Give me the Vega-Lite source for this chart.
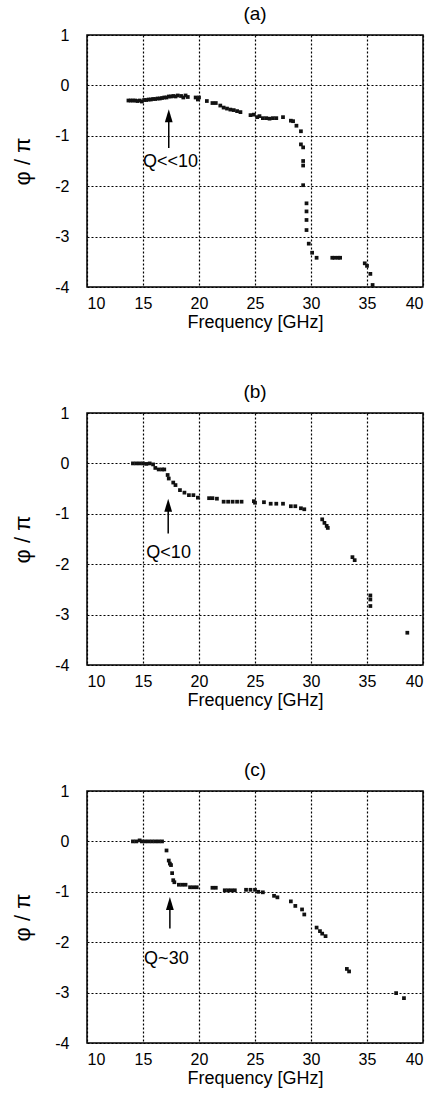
{
  "$schema": "https://vega.github.io/schema/vega-lite/v6.json",
  "background": "white",
  "padding": {"left": 11, "top": 4, "right": 16, "bottom": 5},
  "spacing": 126,
  "bounds": "flush",
  "config": {
    "font": "Liberation Sans",
    "view": {"stroke": "#000", "strokeWidth": 1.5},
    "axis": {"domain": false, "ticks": false, "labelFontSize": 16, "labelColor": "#000", "titleFontSize": 18, "titleColor": "#000", "titleFontWeight": "normal", "grid": true, "gridColor": "#000", "gridDash": [2, 2], "gridWidth": 1.2, "gridOpacity": 1},
    "title": {"fontSize": 19, "fontWeight": "normal", "color": "#000", "offset": 3}
  },
  "datasets": {
    "a": [
      {"f":13.7,"phi":-0.30},{"f":13.9,"phi":-0.30},{"f":14.1,"phi":-0.30},{"f":14.3,"phi":-0.30},{"f":14.5,"phi":-0.31},{"f":14.7,"phi":-0.30},{"f":14.9,"phi":-0.32},{"f":15.1,"phi":-0.29},{"f":15.3,"phi":-0.29},{"f":15.5,"phi":-0.28},{"f":15.7,"phi":-0.28},{"f":15.9,"phi":-0.27},{"f":16.1,"phi":-0.27},{"f":16.3,"phi":-0.26},{"f":16.5,"phi":-0.26},{"f":16.7,"phi":-0.25},{"f":16.9,"phi":-0.24},{"f":17.1,"phi":-0.24},{"f":17.3,"phi":-0.22},{"f":17.5,"phi":-0.22},{"f":17.7,"phi":-0.21},{"f":17.9,"phi":-0.22},{"f":18.1,"phi":-0.20},{"f":18.4,"phi":-0.21},{"f":18.6,"phi":-0.24},{"f":18.8,"phi":-0.20},{"f":19.0,"phi":-0.23},{"f":19.7,"phi":-0.24},{"f":19.9,"phi":-0.28},{"f":20.0,"phi":-0.24},{"f":20.7,"phi":-0.31},{"f":21.2,"phi":-0.35},{"f":21.5,"phi":-0.35},{"f":21.9,"phi":-0.40},{"f":22.2,"phi":-0.44},{"f":22.5,"phi":-0.46},{"f":22.8,"phi":-0.48},{"f":23.1,"phi":-0.49},{"f":23.4,"phi":-0.51},{"f":23.7,"phi":-0.53},{"f":24.6,"phi":-0.59},{"f":24.9,"phi":-0.58},{"f":25.2,"phi":-0.63},{"f":25.4,"phi":-0.61},{"f":25.7,"phi":-0.65},{"f":26.0,"phi":-0.65},{"f":26.3,"phi":-0.66},{"f":26.6,"phi":-0.65},{"f":26.9,"phi":-0.65},{"f":27.5,"phi":-0.63},{"f":28.2,"phi":-0.70},{"f":28.4,"phi":-0.71},{"f":28.7,"phi":-0.80},{"f":29.1,"phi":-0.91},{"f":29.1,"phi":-1.17},{"f":29.3,"phi":-1.23},{"f":29.3,"phi":-1.50},{"f":29.3,"phi":-1.59},{"f":29.3,"phi":-1.98},{"f":29.6,"phi":-2.34},{"f":29.6,"phi":-2.50},{"f":29.6,"phi":-2.67},{"f":29.6,"phi":-2.87},{"f":29.8,"phi":-3.14},{"f":30.1,"phi":-3.32},{"f":30.5,"phi":-3.42},{"f":31.9,"phi":-3.42},{"f":32.1,"phi":-3.42},{"f":32.4,"phi":-3.42},{"f":32.6,"phi":-3.42},{"f":34.8,"phi":-3.53},{"f":35.0,"phi":-3.58},{"f":35.3,"phi":-3.74},{"f":35.5,"phi":-3.96}
    ],
    "b": [
      {"f":14.1,"phi":0},{"f":14.4,"phi":0},{"f":14.7,"phi":0},{"f":15.0,"phi":0},{"f":15.3,"phi":-0.01},{"f":15.6,"phi":0},{"f":15.9,"phi":-0.02},{"f":16.1,"phi":-0.09},{"f":16.4,"phi":-0.12},{"f":16.7,"phi":-0.12},{"f":16.9,"phi":-0.12},{"f":17.2,"phi":-0.23},{"f":17.3,"phi":-0.30},{"f":17.7,"phi":-0.38},{"f":17.9,"phi":-0.43},{"f":18.3,"phi":-0.53},{"f":18.7,"phi":-0.58},{"f":19.1,"phi":-0.63},{"f":19.5,"phi":-0.63},{"f":19.9,"phi":-0.68},{"f":20.9,"phi":-0.69},{"f":21.2,"phi":-0.69},{"f":21.6,"phi":-0.70},{"f":22.2,"phi":-0.76},{"f":22.6,"phi":-0.76},{"f":23.0,"phi":-0.76},{"f":23.4,"phi":-0.76},{"f":23.8,"phi":-0.76},{"f":24.9,"phi":-0.75},{"f":25.0,"phi":-0.78},{"f":25.8,"phi":-0.77},{"f":26.4,"phi":-0.80},{"f":26.9,"phi":-0.80},{"f":27.5,"phi":-0.80},{"f":28.2,"phi":-0.85},{"f":28.6,"phi":-0.85},{"f":29.1,"phi":-0.89},{"f":29.4,"phi":-0.91},{"f":31.0,"phi":-1.11},{"f":31.2,"phi":-1.18},{"f":31.4,"phi":-1.24},{"f":31.5,"phi":-1.28},{"f":33.7,"phi":-1.86},{"f":33.9,"phi":-1.92},{"f":35.3,"phi":-2.62},{"f":35.3,"phi":-2.70},{"f":35.3,"phi":-2.83},{"f":38.6,"phi":-3.36}
    ],
    "c": [
      {"f":14.1,"phi":0},{"f":14.4,"phi":0},{"f":14.7,"phi":0.02},{"f":14.9,"phi":0},{"f":15.2,"phi":0},{"f":15.5,"phi":0},{"f":15.8,"phi":0},{"f":16.1,"phi":0},{"f":16.4,"phi":0},{"f":16.7,"phi":0},{"f":17.1,"phi":-0.18},{"f":17.3,"phi":-0.38},{"f":17.4,"phi":-0.44},{"f":17.5,"phi":-0.47},{"f":17.6,"phi":-0.63},{"f":17.7,"phi":-0.77},{"f":17.8,"phi":-0.81},{"f":18.2,"phi":-0.86},{"f":18.5,"phi":-0.86},{"f":18.8,"phi":-0.86},{"f":19.2,"phi":-0.91},{"f":19.5,"phi":-0.91},{"f":19.8,"phi":-0.91},{"f":21.2,"phi":-0.92},{"f":21.5,"phi":-0.92},{"f":22.3,"phi":-0.97},{"f":22.6,"phi":-0.97},{"f":22.9,"phi":-0.97},{"f":23.2,"phi":-0.97},{"f":24.2,"phi":-0.96},{"f":24.6,"phi":-0.96},{"f":25.0,"phi":-0.96},{"f":25.3,"phi":-1.00},{"f":25.7,"phi":-1.01},{"f":26.7,"phi":-1.08},{"f":27.0,"phi":-1.11},{"f":28.2,"phi":-1.19},{"f":28.6,"phi":-1.28},{"f":29.2,"phi":-1.35},{"f":29.4,"phi":-1.45},{"f":30.5,"phi":-1.71},{"f":30.8,"phi":-1.78},{"f":31.0,"phi":-1.83},{"f":31.3,"phi":-1.88},{"f":33.2,"phi":-2.53},{"f":33.4,"phi":-2.58},{"f":37.6,"phi":-3.01},{"f":38.3,"phi":-3.11}
    ]
  },
  "vconcat": [
    {
      "width": 336, "height": 252, "title": "(a)",
      "encoding": {
        "x": {"field": "f", "type": "quantitative", "scale": {"domain": [10, 40], "nice": false, "zero": false}, "axis": {"values": [10,15,20,25,30,35,40], "title": "Frequency [GHz]", "labelPadding": 8, "titlePadding": 2}},
        "y": {"field": "phi", "type": "quantitative", "scale": {"domain": [-4, 1], "nice": false, "zero": false}, "axis": {"values": [1,0,-1,-2,-3,-4], "labelExpr": "'' + datum.value", "title": "φ / π", "titleFontSize": 22, "labelPadding": 18, "titlePadding": 20}}
      },
      "layer": [
        {"data": {"name": "a"}, "mark": {"type": "point", "shape": "square", "filled": true, "size": 14, "color": "#111", "opacity": 1}},
        {"data": {"values": [{"f": 17.3, "phi": -1.24, "phi2": -0.6}]}, "mark": {"type": "rule", "color": "#000", "strokeWidth": 1.5}, "encoding": {"y2": {"field": "phi2"}}},
        {"data": {"values": [{"f": 17.3, "phi": -0.6}]}, "mark": {"type": "point", "shape": "M0,-1L0.6,1L-0.6,1Z", "filled": true, "size": 169, "color": "#000", "opacity": 1}},
        {"data": {"values": [{"f": 15.0, "phi": -1.52, "label": "Q<<10"}]}, "mark": {"type": "text", "align": "left", "baseline": "middle", "fontSize": 18, "color": "#000"}, "encoding": {"text": {"field": "label"}}}
      ]
    },
    {
      "width": 336, "height": 252, "title": "(b)",
      "encoding": {
        "x": {"field": "f", "type": "quantitative", "scale": {"domain": [10, 40], "nice": false, "zero": false}, "axis": {"values": [10,15,20,25,30,35,40], "title": "Frequency [GHz]", "labelPadding": 8, "titlePadding": 2}},
        "y": {"field": "phi", "type": "quantitative", "scale": {"domain": [-4, 1], "nice": false, "zero": false}, "axis": {"values": [1,0,-1,-2,-3,-4], "labelExpr": "'' + datum.value", "title": "φ / π", "titleFontSize": 22, "labelPadding": 18, "titlePadding": 20}}
      },
      "layer": [
        {"data": {"name": "b"}, "mark": {"type": "point", "shape": "square", "filled": true, "size": 14, "color": "#111", "opacity": 1}},
        {"data": {"values": [{"f": 17.25, "phi": -1.39, "phi2": -0.85}]}, "mark": {"type": "rule", "color": "#000", "strokeWidth": 1.5}, "encoding": {"y2": {"field": "phi2"}}},
        {"data": {"values": [{"f": 17.25, "phi": -0.83}]}, "mark": {"type": "point", "shape": "M0,-1L0.6,1L-0.6,1Z", "filled": true, "size": 169, "color": "#000", "opacity": 1}},
        {"data": {"values": [{"f": 15.3, "phi": -1.78, "label": "Q<10"}]}, "mark": {"type": "text", "align": "left", "baseline": "middle", "fontSize": 18, "color": "#000"}, "encoding": {"text": {"field": "label"}}}
      ]
    },
    {
      "width": 336, "height": 252, "title": "(c)",
      "encoding": {
        "x": {"field": "f", "type": "quantitative", "scale": {"domain": [10, 40], "nice": false, "zero": false}, "axis": {"values": [10,15,20,25,30,35,40], "title": "Frequency [GHz]", "labelPadding": 8, "titlePadding": 2}},
        "y": {"field": "phi", "type": "quantitative", "scale": {"domain": [-4, 1], "nice": false, "zero": false}, "axis": {"values": [1,0,-1,-2,-3,-4], "labelExpr": "'' + datum.value", "title": "φ / π", "titleFontSize": 22, "labelPadding": 18, "titlePadding": 20}}
      },
      "layer": [
        {"data": {"name": "c"}, "mark": {"type": "point", "shape": "square", "filled": true, "size": 14, "color": "#111", "opacity": 1}},
        {"data": {"values": [{"f": 17.4, "phi": -1.73, "phi2": -1.2}]}, "mark": {"type": "rule", "color": "#000", "strokeWidth": 1.5}, "encoding": {"y2": {"field": "phi2"}}},
        {"data": {"values": [{"f": 17.4, "phi": -1.23}]}, "mark": {"type": "point", "shape": "M0,-1L0.6,1L-0.6,1Z", "filled": true, "size": 169, "color": "#000", "opacity": 1}},
        {"data": {"values": [{"f": 15.1, "phi": -2.33, "label": "Q~30"}]}, "mark": {"type": "text", "align": "left", "baseline": "middle", "fontSize": 18, "color": "#000"}, "encoding": {"text": {"field": "label"}}}
      ]
    }
  ]
}
